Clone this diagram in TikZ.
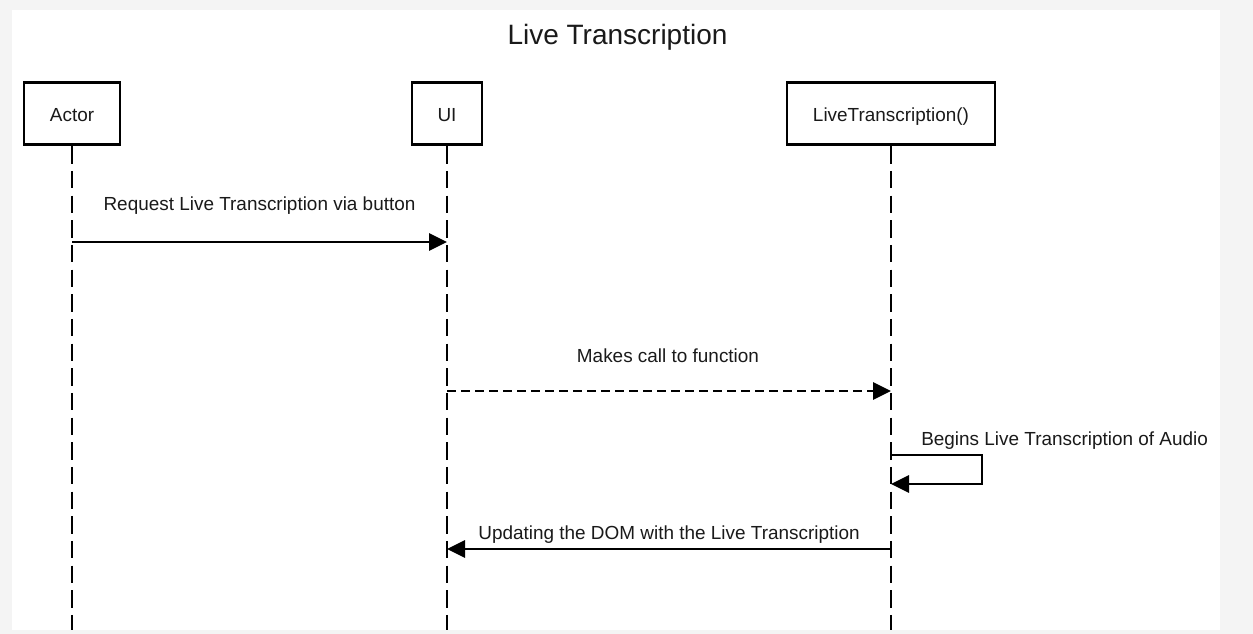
\documentclass[tikz,border=0pt]{standalone}
\usepackage{fontspec}
\setmainfont{Liberation Sans}
\usepackage{xcolor}
\usetikzlibrary{arrows.meta,positioning}
\definecolor{bggrey}{HTML}{F4F4F4}
\definecolor{txt}{HTML}{1A1A1A}

\begin{document}
\begin{tikzpicture}[x=0.75pt,y=-0.75pt,
	actor/.style={draw=black,line width=2.2pt,fill=white,minimum height=47pt,inner sep=0pt,text height=12pt,text depth=0pt,font=\fontsize{14.2}{16}\selectfont,text=txt},
	life/.style={line width=1.5pt,dash pattern=on 13pt off 5.5pt},
	msg/.style={font=\fontsize{14.2}{16}\selectfont,text=txt,inner sep=0pt},
	call/.style={line width=1.4pt,-{Triangle[length=13.5pt,width=13pt]}}]
		% frame
		\fill[bggrey] (0,0) rectangle (1253,634);
		\fill[white] (12,10) rectangle (1220,630);
		\useasboundingbox (0,0) rectangle (1253,634);
		\node[font=\fontsize{21}{24}\selectfont,text=txt] (title) at (617.5,37) {Live Transcription};
		%
		% participants
		\node[actor,minimum width=72pt] (Act) at (72,113.5) {Actor};
		\node[actor,minimum width=52.5pt] (UI) at (447,113.5) {UI};
		\node[actor,minimum width=156pt] (LT) at (891,113.5) {LiveTranscription()};
		\coordinate (Act') at (72,630);
		\coordinate (UI') at (447,630);
		\coordinate (LT') at (891,630);
		% lifelines
		\draw[life] (Act) -- (Act');
		\draw[life] (UI) -- (UI');
		\draw[life] (LT) -- (LT');
		%
		% points on lifelines
		\coordinate (a1) at (72,242);
		\coordinate (u1) at (447,242);
		\coordinate (u2) at (447,391);
		\coordinate (l2) at (891,391);
		\coordinate (l3) at (891,455);
		\coordinate (s3) at (982,455);
		\coordinate (t3) at (982,484);
		\coordinate (l3') at (891,484);
		\coordinate (l4) at (891,549);
		\coordinate (u4) at (447,549);
		%
		% messages
		\draw[call] (a1) -- (u1);
		\draw[call,dash pattern=on 6.5pt off 4pt] (u2) -- (l2);
		\draw[call] (l3) -- (s3) -- (t3) -- (l3');
		\draw[call] (l4) -- (u4);
		% labels
		\node[msg] (m1) at (259.5,206) {Request Live Transcription via button};
		\node[msg] (m2) at (668,356) {Makes call to function};
		\node[msg,anchor=west] (m3) at (921,441) {Begins Live Transcription of Audio};
		\node[msg] (m4) at (669,535) {Updating the DOM with the Live Transcription};
\end{tikzpicture}
\end{document}
